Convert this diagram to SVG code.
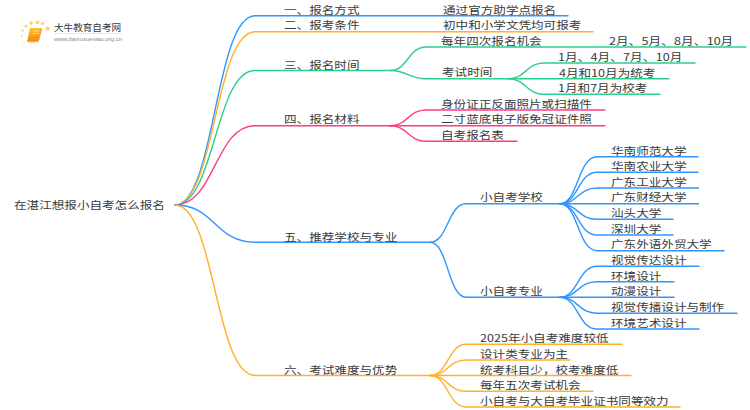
<svg xmlns="http://www.w3.org/2000/svg" width="750" height="410" viewBox="0 0 750 410">
<style>
text{font-family:"Noto Sans CJK SC","Liberation Sans",sans-serif;font-size:10.5px;fill:#3a3a3a;transform-box:fill-box;transform-origin:0 50%;transform:translateY(-.4px) scaleX(1.2)}
text.l{transform:none}
text.w{word-spacing:-2px}
.c{fill:none;stroke-width:1.4;stroke-linecap:round}
.b{stroke:#2f96ff}.o{stroke:#ffb12a}.g{stroke:#2ccf8c}.p{stroke:#ff3a8a}
.d{fill:#ffd576}
</style>
<defs><linearGradient id="bk" x1="0" y1="0" x2="0" y2="1"><stop offset="0" stop-color="#ffc02e"/><stop offset="1" stop-color="#f08a10"/></linearGradient></defs>
<rect width="750" height="410" fill="#fff"/>
<g id="logo">
<circle class="d" cx="47.500" cy="28.500" r="2.200"/><circle class="d" cx="42.500" cy="23.500" r="1.800"/><circle class="d" cx="37.500" cy="22.500" r="2"/><circle class="d" cx="31" cy="23" r="1.900"/><circle class="d" cx="26" cy="26" r="1.600"/><circle class="d" cx="22.500" cy="30.500" r="1.300"/><circle class="d" cx="22" cy="36" r="1.200" opacity=".7"/><circle class="d" cx="23.500" cy="42.500" r="1" opacity=".5"/>
<path d="M30 28h12l-3.500 13.500h-11.500z" fill="url(#bk)"/><path d="M27.500 41.500q5 1.500 11-.5l3-12" stroke="#f7a030" stroke-width="1" fill="none"/>
<path d="M33 31h6M32.500 33.500h6" stroke="#ffe2a0" stroke-width=".8"/>
<text class="l" x="54" y="31" style="font-size:9.600px">大牛教育自考网</text>
<path d="M54 33.500h68" stroke="#ddd" stroke-width=".7"/>
<text class="l" x="54" y="41" style="font-size:6px;fill:#888;font-family:'Liberation Sans',sans-serif">www.daniuxuexiao.org.cn</text>
</g>
<g id="connectors">
<path class="c b" d="M175 205C215 205 215 15.700 255 15.700H568"/>
<path class="c o" d="M175 205C215 205 215 31.700 255 31.700H593"/>
<path class="c g" d="M175 205C215 205 215 70.500 255 70.500H390"/>
<path class="c p" d="M175 205C215 205 215 125.700 255 125.700H390"/>
<path class="c b" d="M175 205C215 205 215 242.300 255 242.300H430"/>
<path class="c o" d="M175 205C215 205 215 375.500 255 375.500H430"/>
<path class="c g" d="M390 70.500C408 70.500 408 47 426 47H746"/>
<path class="c g" d="M390 70.500C408 70.500 408 78.700 426 78.700H508"/>
<path class="c g" d="M508 78.700C526 78.700 526 63 544 63H695"/>
<path class="c g" d="M508 78.700H669"/>
<path class="c g" d="M508 78.700C526 78.700 526 94.300 544 94.300H660"/>
<path class="c p" d="M390 125.700C408 125.700 408 110 426 110H605"/>
<path class="c p" d="M390 125.700H605"/>
<path class="c p" d="M390 125.700C408 125.700 408 141.300 426 141.300H517"/>
<path class="c b" d="M430 242.300C448 242.300 448 203.700 466 203.700H560"/>
<path class="c b" d="M430 242.300C448 242.300 448 297.300 466 297.300H560"/>
<path class="c b" d="M560 203.700C578 203.700 578 156.700 597 156.700H698"/>
<path class="c b" d="M560 203.700C578 203.700 578 172.300 597 172.300H698"/>
<path class="c b" d="M560 203.700C578 203.700 578 188 597 188H698.500"/>
<path class="c b" d="M560 203.700H698.500"/>
<path class="c b" d="M560 203.700C578 203.700 578 219.300 597 219.300H673"/>
<path class="c b" d="M560 203.700C578 203.700 578 235 597 235H673"/>
<path class="c b" d="M560 203.700C578 203.700 578 250.700 597 250.700H724"/>
<path class="c b" d="M560 297.300C578 297.300 578 266.300 597 266.300H699"/>
<path class="c b" d="M560 297.300C578 297.300 578 281.700 597 281.700H674"/>
<path class="c b" d="M560 297.300H674"/>
<path class="c b" d="M560 297.300C578 297.300 578 313.300 597 313.300H737"/>
<path class="c b" d="M560 297.300C578 297.300 578 329 597 329H699"/>
<path class="c o" d="M430 375.500C448 375.500 448 344.300 466 344.300H622"/>
<path class="c o" d="M430 375.500C448 375.500 448 360 466 360H570"/>
<path class="c o" d="M430 375.500H631"/>
<path class="c o" d="M430 375.500C448 375.500 448 391.300 466 391.300H593"/>
<path class="c o" d="M430 375.500C448 375.500 448 407 466 407H680"/>
</g>
<g id="root"><text x="14" y="209">在湛江想报小自考怎么报名</text></g>
<g id="n1"><text x="284" y="14">一、报名方式</text></g>
<g id="n1-1"><text x="443" y="14">通过官方助学点报名</text></g>
<g id="n2"><text x="284" y="29.500">二、报考条件</text></g>
<g id="n2-1"><text x="443" y="29.500">初中和小学文凭均可报考</text></g>
<g id="n3"><text x="284" y="69">三、报名时间</text></g>
<g id="n3-1"><text x="441" y="45">每年四次报名机会</text></g>
<g id="n3-1-1"><text class="w" x="609" y="45" xml:space="preserve">2月、 5月、 8月、 10月</text></g>
<g id="n3-2"><text x="442" y="76.500">考试时间</text></g>
<g id="n3-2-1"><text class="w" x="558" y="61" xml:space="preserve">1月、 4月、 7月、 10月</text></g>
<g id="n3-2-2"><text x="559" y="77">4月和10月为统考</text></g>
<g id="n3-2-3"><text x="558" y="92.500">1月和7月为校考</text></g>
<g id="n4"><text x="284" y="123.500">四、报名材料</text></g>
<g id="n4-1"><text x="441" y="108">身份证正反面照片或扫描件</text></g>
<g id="n4-2"><text x="441" y="123.500">二寸蓝底电子版免冠证件照</text></g>
<g id="n4-3"><text x="441" y="139">自考报名表</text></g>
<g id="n5"><text x="284" y="241">五、推荐学校与专业</text></g>
<g id="n5-1"><text x="480" y="201.500">小自考学校</text></g>
<g id="s1"><text x="611" y="155">华南师范大学</text></g>
<g id="s2"><text x="611" y="170.500">华南农业大学</text></g>
<g id="s3"><text x="611" y="186">广东工业大学</text></g>
<g id="s4"><text x="611" y="201.500">广东财经大学</text></g>
<g id="s5"><text x="611" y="217">汕头大学</text></g>
<g id="s6"><text x="611" y="233">深圳大学</text></g>
<g id="s7"><text x="611" y="248.500">广东外语外贸大学</text></g>
<g id="n5-2"><text x="480" y="295.500">小自考专业</text></g>
<g id="m1"><text x="611" y="264.500">视觉传达设计</text></g>
<g id="m2"><text x="611" y="280">环境设计</text></g>
<g id="m3"><text x="611" y="295.500">动漫设计</text></g>
<g id="m4"><text x="611" y="311">视觉传播设计与制作</text></g>
<g id="m5"><text x="611" y="327">环境艺术设计</text></g>
<g id="n6"><text x="284" y="374">六、考试难度与优势</text></g>
<g id="n6-1"><text x="480" y="342.500">2025年小自考难度较低</text></g>
<g id="n6-2"><text x="480" y="358">设计类专业为主</text></g>
<g id="n6-3"><text x="480" y="374">统考科目少，校考难度低</text></g>
<g id="n6-4"><text x="480" y="389.500">每年五次考试机会</text></g>
<g id="n6-5"><text x="480" y="405">小自考与大自考毕业证书同等效力</text></g>
</svg>
